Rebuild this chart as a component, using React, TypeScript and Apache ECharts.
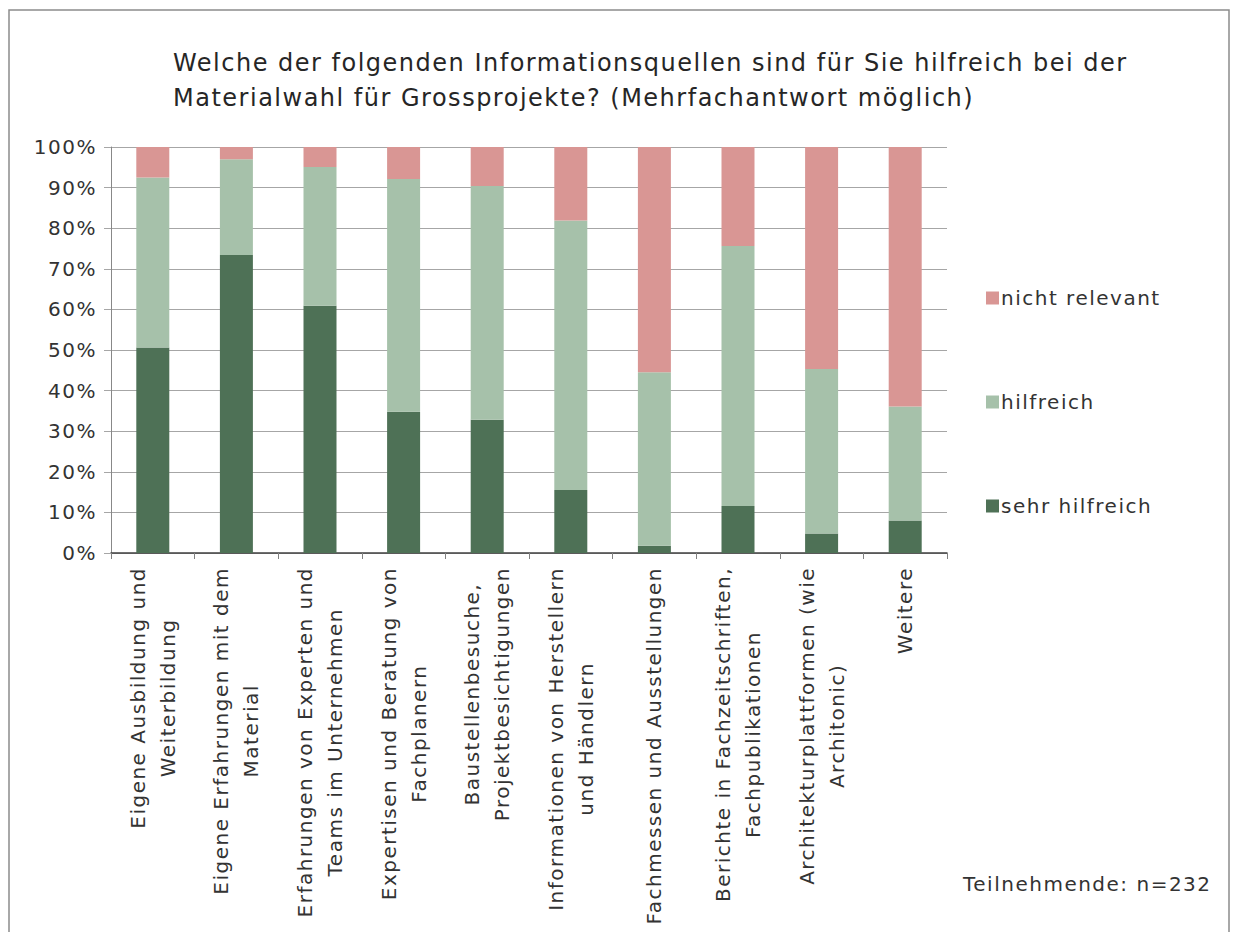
import React, { useEffect, useRef } from "react";
import * as echarts from "echarts";

const titleText =
  "Welche der folgenden Informationsquellen sind für Sie hilfreich bei der\nMaterialwahl für Grossprojekte? (Mehrfachantwort möglich)";

const categories = [
  "Eigene Ausbildung und\nWeiterbildung",
  "Eigene Erfahrungen mit dem\nMaterial",
  "Erfahrungen von Experten und\nTeams im Unternehmen",
  "Expertisen und Beratung von\nFachplanern",
  "Baustellenbesuche,\nProjektbesichtigungen",
  "Informationen von Herstellern\nund Händlern",
  "Fachmessen und Ausstellungen",
  "Berichte in Fachzeitschriften,\nFachpublikationen",
  "Architekturplattformen (wie\nArchitonic)",
  "Weitere",
];

const sehrHilfreich = [50.6, 73.4, 60.9, 34.8, 32.8, 15.5, 1.8, 11.6, 4.8, 8.0];
const hilfreich = [41.9, 23.6, 34.2, 57.3, 57.6, 66.4, 42.7, 64.0, 40.5, 28.1];
const nichtRelevant = [7.5, 3.0, 4.9, 7.9, 9.6, 18.1, 55.5, 24.4, 54.7, 63.9];

const legendOrder = ["nicht relevant", "hilfreich", "sehr hilfreich"];
const footnote = "Teilnehmende: n=232";

const FONT = "DejaVu Sans";
const TEXT = "#333333";
const LETTER_SPACING = 1.5;

export default function App() {
  const ref = useRef<HTMLDivElement>(null);

  useEffect(() => {
    if (!ref.current) return;
    const chart = echarts.init(ref.current, undefined, { renderer: "svg" });

    // rich styles per label: pad each line so the letter-spaced lines stay centred
    const rich: Record<string, any> = {};
    categories.forEach((c, i) => {
      const n = Math.max(...c.split("\n").map((l) => l.length));
      const p = (n * LETTER_SPACING) / 2;
      rich["c" + i] = {
        align: "center",
        fontFamily: FONT,
        fontSize: 20,
        lineHeight: 30,
        color: TEXT,
        padding: [0, p, 0, p],
      };
    });

    const barBase = { type: "bar", stack: "total", barWidth: 33 };
    chart.setOption({
      animation: false,
      backgroundColor: "#ffffff",
      textStyle: { fontFamily: FONT },
      title: {
        text: titleText,
        left: 168,
        top: 40,
        textStyle: {
          fontFamily: FONT,
          fontSize: 24,
          fontWeight: "normal",
          color: "#262626",
          lineHeight: 35,
        },
      },
      legend: {
        data: legendOrder,
        orient: "vertical",
        left: 981,
        top: 283,
        itemWidth: 13,
        itemHeight: 13,
        itemGap: 84,
        icon: "rect",
        textStyle: {
          fontFamily: FONT,
          fontSize: 20,
          lineHeight: 20,
          color: TEXT,
          padding: [0, 0, 0, -3],
        },
      },
      grid: { left: 111, right: 286, top: 147, bottom: 379, containLabel: false },
      xAxis: {
        type: "category",
        data: categories,
        axisLine: { lineStyle: { color: "#404040", width: 1.5 } },
        axisTick: { show: true, length: 6, lineStyle: { color: "#808080" } },
        axisLabel: {
          interval: 0,
          rotate: 90,
          margin: 14,
          color: TEXT,
          formatter: (v: string, idx: number) =>
            v
              .split("\n")
              .map((l) => `{c${idx}|${l}}`)
              .join("\n"),
          rich,
        },
      },
      yAxis: {
        type: "value",
        min: 0,
        max: 100,
        interval: 10,
        axisLine: { show: true, lineStyle: { color: "#888888" } },
        axisTick: { show: true, length: 7, lineStyle: { color: "#a6a6a6" } },
        axisLabel: {
          formatter: "{value}%",
          fontFamily: FONT,
          fontSize: 20,
          color: TEXT,
          margin: 14,
        },
        splitLine: { lineStyle: { color: "#a6a6a6", width: 1 } },
      },
      series: [
        { ...barBase, name: "sehr hilfreich", data: sehrHilfreich, itemStyle: { color: "#4e7156" } },
        { ...barBase, name: "hilfreich", data: hilfreich, itemStyle: { color: "#a6c1aa" } },
        { ...barBase, name: "nicht relevant", data: nichtRelevant, itemStyle: { color: "#d99694" } },
      ],
      graphic: [
        {
          type: "rect",
          shape: { x: 9, y: 10, width: 1220, height: 960 },
          style: { fill: "none", stroke: "#8c8c8c", lineWidth: 1.5 },
          silent: true,
        },
        {
          type: "text",
          left: 963,
          top: 874,
          style: { text: footnote, font: `20px '${FONT}'`, fill: TEXT },
        },
      ],
    });
    return () => chart.dispose();
  }, []);

  return (
    <>
      <style>{`#chart-wrap text { letter-spacing: ${LETTER_SPACING}px; }`}</style>
      <div
        id="chart-wrap"
        ref={ref}
        style={{ position: "absolute", left: 0, top: 0, width: 1233, height: 932 }}
      />
    </>
  );
}
